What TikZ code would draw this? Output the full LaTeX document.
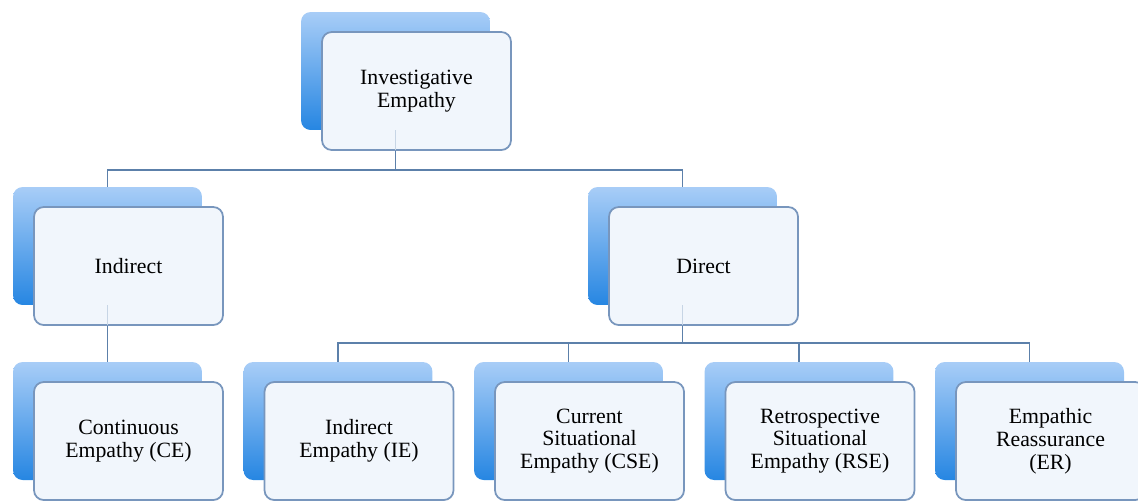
\documentclass[tikz,border=0pt]{standalone}
\usepackage{fontspec}
\newfontfamily\boxfont{Liberation Serif}
\definecolor{backtop}{RGB}{168,205,247}
\definecolor{backbot}{RGB}{38,134,226}
\definecolor{frontfill}{RGB}{241,246,252}
\definecolor{frontline}{RGB}{120,150,189}
\definecolor{linkcol}{RGB}{92,128,170}
\begin{document}
\begin{tikzpicture}[x=0.02cm,y=-0.02cm,
		back/.style={rounded corners=5.5pt, minimum width=3.78cm, minimum height=2.36cm, inner sep=0pt,
			top color=backtop, bottom color=backbot},
		front/.style={draw=frontline, line width=1pt, rounded corners=5.5pt, fill=frontfill,
			minimum width=3.78cm, minimum height=2.36cm, inner sep=0pt,
			align=center, font=\boxfont\fontsize{12.4}{13}\selectfont},
		link/.style={draw=linkcol, line width=1pt},
		faint/.style={draw=linkcol!28!frontfill, line width=1pt}]
		\useasboundingbox (0,0) rectangle (1138,501);
		% blue boxes behind
		\node[back] (inv) at (395.5,71) {};
		\node[back] (ind) at (107.5,246) {};
		\node[back] (dir) at (682.5,246) {};
		\node[back] (ce) at (107.5,421) {};
		\node[back] (ie) at (338,421) {};
		\node[back] (cse) at (568.5,421) {};
		\node[back] (rse) at (799,421) {};
		\node[back] (er) at (1029.5,421) {};
		% connectors
		\draw[link] (inv.south) -- ++(0,40) -| (ind.north);
		\draw[link] (inv.south) -- ++(0,40) -| (dir.north);
		\draw[link] (ind.south) -- (ce.north);
		\draw[link] (dir.south) -- ++(0,38) -| (ie.north);
		\draw[link] (dir.south) -- ++(0,38) -| (cse.north);
		\draw[link] (dir.south) -- ++(0,38) -| (rse.north);
		\draw[link] (dir.south) -- ++(0,38) -| (er.north);
		% white boxes in front
		\node[front] (inv-f) at ([shift={(21,20)}]inv) {Investigative\\Empathy};
		\node[front] (ind-f) at ([shift={(21,20)}]ind) {Indirect};
		\node[front] (dir-f) at ([shift={(21,20)}]dir) {Direct};
		\node[front] (ce-f) at ([shift={(21,20)}]ce) {Continuous\\Empathy (CE)};
		\node[front] (ie-f) at ([shift={(21,20)}]ie) {Indirect\\Empathy (IE)};
		\node[front] (cse-f) at ([shift={(21,20)}]cse) {Current\\Situational\\Empathy (CSE)};
		\node[front] (rse-f) at ([shift={(21,20)}]rse) {Retrospective\\Situational\\Empathy (RSE)};
		\node[front] (er-f) at ([shift={(21,20)}]er) {Empathic\\Reassurance\\(ER)};
		% lines seen through the white boxes
		\draw[faint] (inv.south) -- ([yshift=0.6pt]inv-f.south-|inv.south);
		\draw[faint] (ind.south) -- ([yshift=0.6pt]ind-f.south-|ind.south);
		\draw[faint] (dir.south) -- ([yshift=0.6pt]dir-f.south-|dir.south);
\end{tikzpicture}
\end{document}
